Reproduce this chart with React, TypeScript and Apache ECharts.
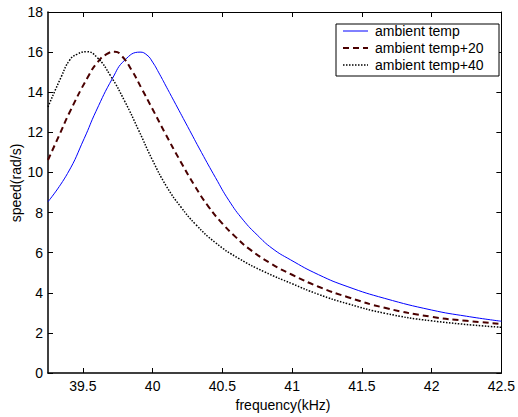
import React, { useEffect, useRef } from "react";
import * as echarts from "echarts";

const xTicks = [39.5, 40, 40.5, 41, 41.5, 42, 42.5];
const yTicksMax = 18;

const seriesNames = ["ambient temp", "ambient temp+20", "ambient temp+40"];
const seriesColors = ["#0000ff", "#4a0000", "#000000"];

const blueFreq = [39.25, 39.39, 39.51, 39.594, 39.713, 39.8, 39.91, 39.96, 40.0, 40.05, 40.1, 40.15, 40.25, 40.35, 40.45, 40.547, 40.65, 40.75, 40.856, 40.987, 41.19, 41.4, 41.664, 42.0, 42.25, 42.5];
const blueSpeed = [8.54, 9.95, 11.7, 13.05, 14.7, 15.6, 16.0, 15.85, 15.5, 14.9, 14.25, 13.6, 12.3, 11.0, 9.75, 8.6, 7.62, 6.88, 6.22, 5.65, 4.9, 4.3, 3.72, 3.14, 2.83, 2.58];

const dashFreq = [39.25, 39.33, 39.405, 39.535, 39.606, 39.67, 39.73, 39.78, 39.85, 39.92, 40.0, 40.09, 40.2, 40.3, 40.4, 40.5, 40.6, 40.69, 40.85, 41.0, 41.19, 41.4, 41.664, 42.0, 42.25, 42.5];
const dashSpeed = [10.62, 11.85, 13.0, 14.75, 15.5, 15.9, 16.02, 15.8, 15.1, 14.2, 13.15, 11.95, 10.55, 9.35, 8.3, 7.45, 6.75, 6.2, 5.45, 4.9, 4.3, 3.78, 3.25, 2.8, 2.6, 2.45];

const dotFreq = [39.25, 39.345, 39.405, 39.46, 39.525, 39.6, 39.7, 39.8, 39.9, 40.0, 40.1, 40.2, 40.31, 40.45, 40.62, 40.8, 41.0, 41.19, 41.4, 41.664, 42.0, 42.5];
const dotSpeed = [13.27, 14.77, 15.6, 15.9, 16.02, 15.75, 14.8, 13.55, 12.1, 10.6, 9.3, 8.3, 7.4, 6.5, 5.7, 5.05, 4.45, 3.92, 3.45, 2.98, 2.6, 2.28];

const zip = (xs: number[], ys: number[]) => xs.map((x, i) => [x, ys[i]]);

const FONT = "Liberation Sans, Arial, sans-serif";

const lineStyles = [
  { width: 1, dash: null as number[] | null },
  { width: 2, dash: [6, 4] },
  { width: 1.5, dash: [1.5, 1.5] },
];

export default function App() {
  const ref = useRef<HTMLDivElement>(null);
  useEffect(() => {
    document.body.style.margin = "0";
    const chart = echarts.init(ref.current!, undefined, { renderer: "svg" });
    const tickStyle = { show: true, inside: true, length: 5, lineStyle: { color: "#000", width: 1 } };

    const legendX = 336;
    const legendY = 24;
    const rowY = [31, 48, 65];
    const legendGraphics: any[] = [
      {
        type: "rect",
        shape: { x: legendX, y: legendY, width: 163, height: 52 },
        style: { fill: "#fff", stroke: "#000", lineWidth: 1 },
        z: 10,
      },
    ];
    seriesNames.forEach((name, i) => {
      legendGraphics.push({
        type: "line",
        shape: { x1: 343, y1: rowY[i], x2: 368, y2: rowY[i] },
        style: {
          stroke: seriesColors[i],
          lineWidth: lineStyles[i].width,
          lineDash: lineStyles[i].dash || undefined,
        },
        z: 11,
      });
      legendGraphics.push({
        type: "text",
        x: 375,
        y: rowY[i],
        style: { text: name, fontSize: 14, fontFamily: FONT, fill: "#000", align: "left", verticalAlign: "middle" },
        z: 11,
      });
    });

    const mk = (i: number, xs: number[], ys: number[]) => ({
      name: seriesNames[i],
      type: "line",
      data: zip(xs, ys),
      showSymbol: false,
      symbol: "none",
      smooth: 0.5,
      color: seriesColors[i],
      lineStyle: {
        color: seriesColors[i],
        width: lineStyles[i].width,
        type: lineStyles[i].dash ? lineStyles[i].dash : "solid",
      },
    });

    chart.setOption({
      animation: false,
      backgroundColor: "#fff",
      textStyle: { fontFamily: FONT },
      grid: { left: 48, top: 12, right: 14, bottom: 44, containLabel: false },
      xAxis: [
        {
          type: "value",
          min: 39.25,
          max: 42.5,
          axisLine: { show: true, onZero: false, lineStyle: { color: "#000", width: 1.5 } },
          axisTick: { ...tickStyle, customValues: xTicks },
          axisLabel: { customValues: xTicks, color: "#000", fontSize: 14, fontFamily: FONT, margin: 6 },
          splitLine: { show: false },
        },
        {
          type: "value",
          position: "top",
          min: 39.25,
          max: 42.5,
          axisLine: { show: true, onZero: false, lineStyle: { color: "#000", width: 1 } },
          axisTick: { ...tickStyle, customValues: xTicks },
          axisLabel: { show: false },
          splitLine: { show: false },
        },
      ],
      yAxis: [
        {
          type: "value",
          min: 0,
          max: yTicksMax,
          interval: 2,
          axisLine: { show: true, onZero: false, lineStyle: { color: "#000", width: 1.5 } },
          axisTick: tickStyle,
          axisLabel: { color: "#000", fontSize: 14, fontFamily: FONT, margin: 5 },
          splitLine: { show: false },
        },
        {
          type: "value",
          position: "right",
          min: 0,
          max: yTicksMax,
          interval: 2,
          axisLine: { show: true, onZero: false, lineStyle: { color: "#000", width: 1 } },
          axisTick: tickStyle,
          axisLabel: { show: false },
          splitLine: { show: false },
        },
      ],
      graphic: [
        {
          type: "text",
          x: 283,
          y: 405,
          style: { text: "frequency(kHz)", fontSize: 14, fontFamily: FONT, fill: "#000", align: "center", verticalAlign: "middle" },
        },
        {
          type: "text",
          x: 16,
          y: 183,
          rotation: Math.PI / 2,
          style: { text: "speed(rad/s)", fontSize: 14, fontFamily: FONT, fill: "#000", align: "center", verticalAlign: "middle" },
        },
        ...legendGraphics,
      ],
      series: [
        mk(0, blueFreq, blueSpeed),
        mk(1, dashFreq, dashSpeed),
        mk(2, dotFreq, dotSpeed),
      ],
    });
    return () => chart.dispose();
  }, []);
  return <div ref={ref} style={{ width: 518, height: 417 }} />;
}
